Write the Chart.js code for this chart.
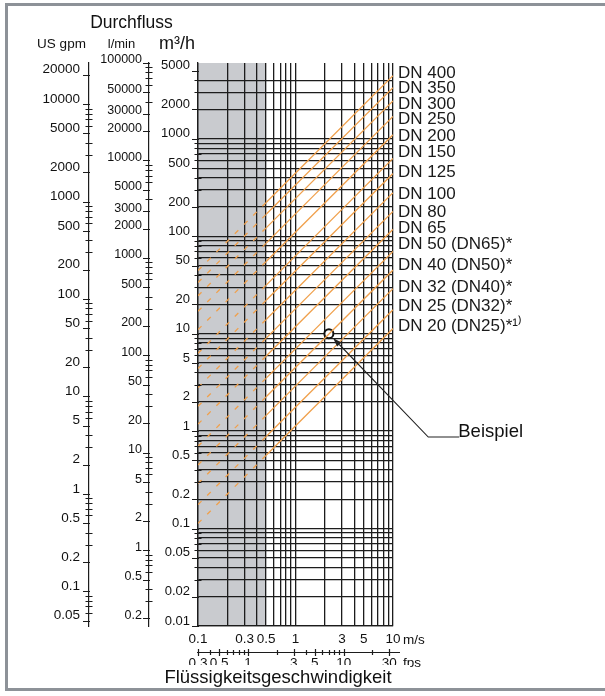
<!DOCTYPE html>
<html><head><meta charset="utf-8">
<script src="https://cdn.jsdelivr.net/npm/chart.js@4/dist/chart.umd.min.js"></script>
<style>html,body{margin:0;padding:0;background:#fff;}canvas{display:block;}</style>
</head><body>
<canvas id="c" width="605" height="696"></canvas>
<script>
const FONT = "'Liberation Sans', Arial, Helvetica, sans-serif";

// ---- tick labels ----
const velocityLabels = [0.1, 0.3, 0.5, 1, 3, 5, 10];
const fpsLabels = [0.3, 0.5, 1, 3, 5, 10, 30];
const flowLabels = [5000, 2000, 1000, 500, 200, 100, 50, 20, 10, 5, 2, 1, 0.5, 0.2, 0.1, 0.05, 0.02, 0.01];
const lminLabels = [100000, 50000, 30000, 20000, 10000, 5000, 3000, 2000, 1000, 500, 200, 100, 50, 20, 10, 5, 2, 1, 0.5, 0.2];
const gpmLabels = [20000, 10000, 5000, 2000, 1000, 500, 200, 100, 50, 20, 10, 5, 2, 1, 0.5, 0.2, 0.1, 0.05];

// ---- pipe-size lines (flow in m³/h at 0.1, 0.5 and 10 m/s) ----
const dnNames = ['DN 400', 'DN 350', 'DN 300', 'DN 250', 'DN 200', 'DN 150', 'DN 125', 'DN 100', 'DN 80', 'DN 65',
  'DN 50 (DN65)*', 'DN 40 (DN50)*', 'DN 32 (DN40)*', 'DN 25 (DN32)*', 'DN 20 (DN25)*¹⁾'];
const dnLabelFlows = [4750, 3300, 2260, 1590, 1070, 720, 450, 270, 176, 122, 83, 50, 30, 19, 11.8];
const lineVelocities = [0.1, 0.5, 10];
const flowAtV01 = [44.5, 33.5, 24.5, 17, 11, 6.3, 4.4, 2.8, 1.8, 1.18, 0.70, 0.45, 0.29, 0.176, 0.113];
const flowAtV05 = [222, 168, 122, 85, 55, 31.5, 22, 14, 9, 5.9, 3.5, 2.25, 1.45, 0.88, 0.565];
const flowAtV10 = [4450, 3350, 2450, 1700, 1100, 630, 440, 280, 180, 118, 70, 45, 29, 17.6, 11.3];

const example = { v: 2.2, q: 10 };
const exampleLabelAt = { v: 23, q: 0.87 };
const grayZone = [0.1, 0.5];
const flowMin = 0.01, flowMax = 6000, flowGridMax = 4000;
const velMin = 0.1, velMax = 10;
const M3H_TO_LMIN = 100000 / 6000, M3H_TO_GPM = 4.402868, MS_TO_FPS = 1 / 0.3048;

// ---- helpers for log tick positions ----
function logSteps(min, max) {
  const out = [];
  for (let e = Math.floor(Math.log10(min)) - 1; e <= Math.ceil(Math.log10(max)); e++)
    for (let m = 1; m <= 9; m++) {
      const v = +(m * Math.pow(10, e)).toPrecision(6);
      if (v >= min * 0.9999 && v <= max * 1.0001) out.push(v);
    }
  return out;
}
const near = (list, v) => list.some(l => Math.abs(l - v) <= Math.abs(l) * 1e-6);
const fmt = v => String(+(+v).toPrecision(6));

const velocityGrid = logSteps(velMin, velMax);
const fpsTicks = logSteps(0.3, 30);
const flowTicks = [...logSteps(flowMin, flowGridMax), 5000];
const lminTicks = logSteps(flowMin * M3H_TO_LMIN, flowMax * M3H_TO_LMIN);
const gpmTicks = logSteps(flowMin * M3H_TO_GPM, flowMax * M3H_TO_GPM);

const GRID = '#1c1c1c';
const ORANGE = '#f0a04c';

const dnDatasets = dnNames.map((name, i) => ({
  label: name,
  data: lineVelocities.map((v, k) => ({ x: v, y: [flowAtV01, flowAtV05, flowAtV10][k][i] })),
  borderColor: ORANGE,
  borderWidth: 1.3,
  pointRadius: 0,
  fill: false,
  tension: 0,
  segment: { borderDash: ctx => ctx.p1.parsed.x <= grayZone[1] * 1.0001 ? [5, 8] : undefined }
}));

const exampleDataset = {
  label: 'Beispiel',
  data: [{ x: example.v, y: example.q }],
  showLine: false,
  pointRadius: 4.5,
  pointBorderWidth: 2,
  pointBorderColor: '#111',
  pointBackgroundColor: '#fff'
};

const setTicks = list => sc => { sc.ticks = list.map(v => ({ value: v })); };

const nomogram = {
  id: 'nomogram',
  beforeDraw(chart) {
    const { ctx, chartArea: a } = chart;
    const x = chart.scales.x;
    ctx.save();
    ctx.fillStyle = '#fff';
    ctx.fillRect(0, 0, chart.width, chart.height);
    // frame
    ctx.fillStyle = '#8d9298';
    ctx.fillRect(5, 3, chart.width, 3);
    ctx.fillRect(5, 3, 3, 688);
    ctx.fillRect(5, 688, chart.width, 3);
    // gray low-velocity zone
    ctx.fillStyle = '#c9cbcf';
    const x0 = x.getPixelForValue(grayZone[0]), x1 = x.getPixelForValue(grayZone[1]);
    ctx.fillRect(x0, a.top, x1 - x0, a.bottom - a.top);
    ctx.restore();
  },
  afterDraw(chart) {
    const { ctx, chartArea: a } = chart;
    const s = chart.scales;
    ctx.save();
    ctx.strokeStyle = '#1c1c1c';
    ctx.lineWidth = 1.2;
    // tick marks on the three flow axes
    const axes = [[s.yG, gpmTicks, gpmLabels], [s.yL, lminTicks, lminLabels], [s.y, flowTicks, flowLabels]];
    for (const [sc, ticks, labels] of axes) {
      const ax = sc.right;
      ctx.beginPath();
      for (const v of ticks) {
        const py = Math.round(sc.getPixelForValue(v)) + 0.5;
        if (near(labels, v)) { ctx.moveTo(ax - 6, py); ctx.lineTo(ax + 1, py); }
        else { ctx.moveTo(ax - 3.5, py); ctx.lineTo(ax + 3.5, py); }
      }
      ctx.stroke();
    }
    // fps axis
    const f = s.xf;
    const yA = Math.round(f.top + 4) + 0.5;
    ctx.beginPath();
    ctx.moveTo(f.getPixelForValue(fpsTicks[0]) - 1, yA);
    ctx.lineTo(a.right + 7, yA);
    for (const v of fpsTicks) {
      const px = Math.round(f.getPixelForValue(v)) + 0.5;
      const h = near(fpsLabels, v) ? 3.5 : 2.5;
      ctx.moveTo(px, yA - h); ctx.lineTo(px, yA + h);
    }
    ctx.stroke();

    // texts
    ctx.fillStyle = '#111';
    ctx.textAlign = 'center';
    ctx.textBaseline = 'alphabetic';
    ctx.font = `17.5px ${FONT}`; ctx.fillText('Durchfluss', 131.5, 28);
    ctx.font = `13.5px ${FONT}`; ctx.fillText('US gpm', 61.5, 48);
    ctx.font = `13px ${FONT}`; ctx.fillText('l/min', 121.5, 48);
    ctx.font = `18px ${FONT}`; ctx.fillText('m³/h', 177, 49);

    ctx.textAlign = 'left';
    ctx.textBaseline = 'middle';
    ctx.font = `13.5px ${FONT}`;
    ctx.fillText('m/s', a.right + 10, s.x.top + 14);
    ctx.fillText('fps', a.right + 10, f.top + 15);

    // title with white background
    ctx.fillStyle = '#fff';
    ctx.fillRect(150, f.bottom - 3, 260, 20);
    ctx.fillStyle = '#111';
    ctx.textAlign = 'center';
    ctx.textBaseline = 'alphabetic';
    ctx.font = `18.5px ${FONT}`;
    ctx.fillText('Flüssigkeitsgeschwindigkeit', 278, 683);

    // example annotation
    const cx = s.x.getPixelForValue(example.v), cy = s.y.getPixelForValue(example.q);
    const lx = s.x.getPixelForValue(exampleLabelAt.v), ly = s.y.getPixelForValue(exampleLabelAt.q);
    const dx = cx - lx, dy = cy - ly, L = Math.hypot(dx, dy), ux = dx / L, uy = dy / L;
    const tipX = cx - ux * 6, tipY = cy - uy * 6;
    const bX = tipX - ux * 9, bY = tipY - uy * 9;
    ctx.strokeStyle = '#222'; ctx.lineWidth = 1.1;
    ctx.beginPath();
    ctx.moveTo(lx + 31, ly); ctx.lineTo(lx, ly); ctx.lineTo(bX, bY);
    ctx.stroke();
    ctx.fillStyle = '#222';
    ctx.beginPath();
    ctx.moveTo(tipX, tipY);
    ctx.lineTo(bX - uy * 3, bY + ux * 3);
    ctx.lineTo(bX + uy * 3, bY - ux * 3);
    ctx.closePath(); ctx.fill();
    ctx.fillStyle = '#111';
    ctx.textAlign = 'left';
    ctx.font = `18.5px ${FONT}`;
    ctx.fillText('Beispiel', lx + 30, ly);
    ctx.restore();
  }
};

Chart.defaults.font.family = FONT;
Chart.defaults.color = '#111';

new Chart(document.getElementById('c'), {
  type: 'line',
  data: { datasets: [...dnDatasets, exampleDataset] },
  options: {
    responsive: false,
    animation: false,
    events: [],
    layout: { padding: { top: 63, left: 0, right: 0, bottom: 28 } },
    plugins: { legend: { display: false }, tooltip: { enabled: false } },
    scales: {
      x: {
        type: 'logarithmic', position: 'bottom', min: velMin, max: velMax, weight: 0,
        afterBuildTicks: setTicks(velocityGrid),
        afterFit: sc => { sc.height = 22; },
        ticks: { autoSkip: false, maxRotation: 0, padding: 5, font: { size: 13.5 },
          callback: v => near(velocityLabels, v) ? fmt(v) : '' },
        grid: { color: GRID, lineWidth: 1.3, drawTicks: false },
        border: { color: GRID, width: 1.3 }
      },
      xf: {
        type: 'logarithmic', position: 'bottom', min: velMin * MS_TO_FPS, max: velMax * MS_TO_FPS, weight: 1,
        afterBuildTicks: setTicks(fpsTicks),
        afterFit: sc => { sc.height = 20; },
        ticks: { autoSkip: false, maxRotation: 0, padding: 7, font: { size: 13.5 },
          callback: v => near(fpsLabels, v) ? fmt(v) : '' },
        grid: { display: false, drawTicks: false },
        border: { display: false }
      },
      y: {
        type: 'logarithmic', position: 'left', min: flowMin, max: flowMax, weight: 0,
        afterBuildTicks: setTicks(flowTicks),
        afterFit: sc => { sc.width = 49; },
        ticks: { autoSkip: false, padding: 8, labelOffset: -5, font: { size: 13 },
          callback: v => near(flowLabels, v) ? fmt(v) : '' },
        grid: { color: c => (c.tick && c.tick.value > flowGridMax * 1.01) ? 'rgba(0,0,0,0)' : GRID, lineWidth: 1.3, drawTicks: false },
        border: { color: GRID, width: 1.3 }
      },
      yL: {
        type: 'logarithmic', position: 'left', min: flowMin * M3H_TO_LMIN, max: flowMax * M3H_TO_LMIN, weight: 1,
        afterBuildTicks: setTicks(lminTicks),
        afterFit: sc => { sc.width = 60; },
        ticks: { autoSkip: false, padding: 7, labelOffset: -3, font: { size: 12.5 },
          callback: v => near(lminLabels, v) ? fmt(v) : '' },
        grid: { drawOnChartArea: false, drawTicks: false },
        border: { color: GRID, width: 1.2 }
      },
      yG: {
        type: 'logarithmic', position: 'left', min: flowMin * M3H_TO_GPM, max: flowMax * M3H_TO_GPM, weight: 2,
        afterBuildTicks: setTicks(gpmTicks),
        afterFit: sc => { sc.width = 89; },
        ticks: { autoSkip: false, padding: 9, labelOffset: -5, font: { size: 13.5 },
          callback: v => near(gpmLabels, v) ? fmt(v) : '' },
        grid: { drawOnChartArea: false, drawTicks: false },
        border: { color: GRID, width: 1.2 }
      },
      yDN: {
        type: 'logarithmic', position: 'right', min: flowMin, max: flowMax,
        afterBuildTicks: setTicks(dnLabelFlows),
        afterFit: sc => { sc.width = 212; },
        ticks: { autoSkip: false, padding: 5, font: { size: 17 }, color: '#1a1a1a',
          callback: (v, i) => dnNames[i] },
        grid: { display: false, drawTicks: false },
        border: { display: false }
      }
    }
  },
  plugins: [nomogram]
});
</script>
</body></html>
